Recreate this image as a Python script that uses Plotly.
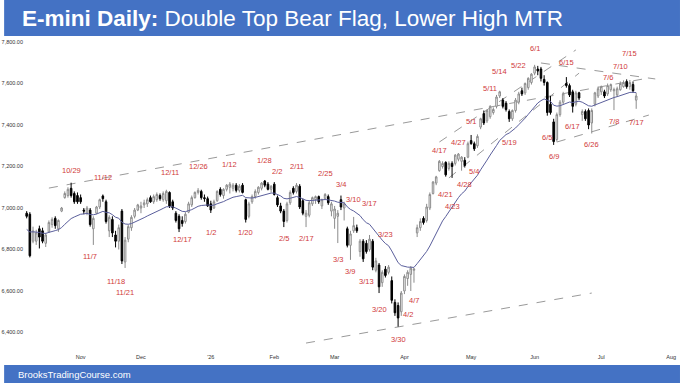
import pandas as pd
import plotly.graph_objects as go

# ---------------- data ----------------
holidays = ["2025-11-27", "2025-12-25", "2026-01-01", "2026-01-19", "2026-02-16",
            "2026-04-03", "2026-05-25", "2026-06-19", "2026-07-03"]
first_day, last_day = "2025-10-09", "2026-07-17"

opens = [
 6975, 6970, 6840, 6840, 6900, 6890, 6830, 6885, 6920, 6950, 6900, 6985, 7050, 7060, 7095, 7070, 7060,
 7050, 6990, 6975, 6990, 6900, 6975, 7005, 7058, 7030, 6890, 6945, 6870, 6840, 6985, 6740, 6850, 6905, 6960, 6990,
 7000, 7015, 7020, 7050, 7030, 7040, 7060, 7040, 7035, 7075, 7030, 6975, 6960, 6940, 6935, 6980, 7015, 7050, 7075, 7080, 7050, 7045,
 7020, 7000, 7035, 7090, 7060, 7090, 7100, 7095, 7110, 7085, 7110, 7040, 6960, 7030, 7055, 7075, 7095, 7130, 7115, 7090,
 7115, 7050, 7010, 6985, 6940, 7025, 7095, 7080, 7105, 7035, 6960, 6965, 7020, 7040, 7055, 7010, 7045, 7055, 6985,
 6950, 6960, 7040, 7000, 6900, 6820, 6890, 6905, 6790, 6840, 6830, 6800, 6840, 6700, 6725, 6640, 6705, 6690, 6650, 6545, 6530, 6500,
 6600, 6660, 6680, 6700, 6880, 6905, 6950, 6940, 7000, 7070, 7120, 7180, 7200, 7220, 7190, 7215, 7215, 7235, 7225, 7230, 7245,
 7325, 7310, 7300, 7390, 7455, 7420, 7440, 7460, 7490, 7540, 7520, 7505, 7465, 7430, 7470, 7510, 7565, 7555, 7580, 7605,
 7650, 7670, 7670, 7620, 7605, 7500, 7415, 7330, 7450, 7510, 7600, 7590, 7560, 7500, 7555, 7450, 7465, 7470, 7410, 7500, 7540,
 7560, 7560, 7550, 7570, 7565, 7545, 7570, 7585, 7610, 7585, 7595, 7520]
highs = [
 6985, 6980, 6910, 6895, 6915, 6905, 6880, 6940, 6955, 6960, 6945, 7005, 7080, 7100, 7122, 7080, 7075,
 7065, 7000, 7010, 7000, 6960, 7010, 7045, 7065, 7040, 6965, 6960, 6890, 6920, 6995, 6860, 6920, 6965, 7000, 7020,
 7030, 7040, 7050, 7060, 7065, 7075, 7070, 7080, 7088, 7080, 7040, 6985, 6970, 6960, 6980, 7030, 7060, 7080, 7096, 7088, 7065, 7055,
 7035, 7040, 7085, 7100, 7095, 7115, 7125, 7120, 7120, 7115, 7120, 7045, 7030, 7065, 7090, 7105, 7125, 7135, 7125, 7110,
 7125, 7060, 7025, 6995, 7030, 7085, 7105, 7120, 7115, 7045, 6990, 7035, 7055, 7060, 7060, 7045, 7072, 7065, 7030,
 7010, 6990, 7060, 7030, 6910, 6890, 6957, 6920, 6850, 6850, 6845, 6870, 6850, 6760, 6735, 6700, 6720, 6725, 6670, 6560, 6545, 6600,
 6680, 6700, 6720, 6711, 6920, 6950, 6960, 7020, 7075, 7130, 7155, 7231, 7225, 7225, 7225, 7225, 7260, 7265, 7250, 7245, 7320,
 7352, 7320, 7355, 7435, 7470, 7475, 7495, 7485, 7545, 7565, 7530, 7515, 7475, 7475, 7530, 7560, 7580, 7605, 7630, 7650,
 7690, 7685, 7680, 7640, 7610, 7540, 7430, 7460, 7520, 7560, 7631, 7600, 7570, 7565, 7560, 7475, 7475, 7480, 7480, 7560, 7585,
 7590, 7570, 7600, 7600, 7580, 7585, 7610, 7615, 7620, 7617, 7610, 7555]
lows = [
 6950, 6762, 6830, 6822, 6805, 6830, 6812, 6880, 6905, 6900, 6885, 6980, 7045, 7050, 7050, 7020, 7020,
 7020, 6970, 6965, 6910, 6822, 6970, 6995, 7030, 6925, 6860, 6860, 6810, 6800, 6730, 6711, 6835, 6890, 6950, 6985,
 6975, 7000, 7005, 7025, 7020, 7030, 7035, 7030, 7020, 7000, 6990, 6930, 6884, 6910, 6925, 6975, 7005, 7045, 7065, 7040, 7030, 7005,
 6976, 6995, 7030, 7055, 7045, 7080, 7070, 7080, 7075, 7075, 7070, 6930, 6950, 7020, 7045, 7065, 7085, 7100, 7085, 7075,
 7060, 7005, 6975, 6908, 6930, 7015, 7065, 7070, 6995, 6965, 6908, 6955, 7010, 7020, 7020, 6995, 7040, 7015, 6960,
 6900, 6831, 6990, 6940, 6810, 6750, 6880, 6880, 6765, 6740, 6780, 6790, 6700, 6690, 6590, 6620, 6665, 6680, 6540, 6480, 6428, 6480,
 6585, 6625, 6600, 6640, 6860, 6890, 6920, 6930, 6990, 7065, 7110, 7175, 7190, 7151, 7180, 7145, 7205, 7225, 7180, 7195, 7240,
 7305, 7275, 7290, 7380, 7400, 7410, 7430, 7450, 7480, 7530, 7480, 7465, 7415, 7420, 7460, 7500, 7540, 7545, 7570, 7595,
 7640, 7640, 7610, 7590, 7445, 7450, 7304, 7320, 7440, 7500, 7580, 7535, 7460, 7490, 7520, 7420, 7420, 7380, 7359, 7490, 7530,
 7545, 7530, 7540, 7560, 7472, 7535, 7565, 7580, 7575, 7570, 7555, 7478]
closes = [
 6960, 6770, 6890, 6880, 6860, 6840, 6870, 6930, 6945, 6915, 6940, 7000, 7070, 7090, 7060, 7030, 7030,
 7030, 6985, 7000, 6920, 6950, 7005, 7040, 7045, 6935, 6955, 6880, 6840, 6905, 6745, 6845, 6910, 6955, 6990, 7015,
 7010, 7025, 7040, 7030, 7055, 7065, 7045, 7070, 7080, 7010, 7000, 6940, 6900, 6925, 6970, 7020, 7050, 7075, 7085, 7050, 7045, 7010,
 6990, 7030, 7080, 7065, 7090, 7110, 7115, 7110, 7085, 7105, 7075, 6945, 7020, 7055, 7080, 7100, 7120, 7110, 7090, 7105,
 7065, 7015, 6985, 6935, 7020, 7075, 7075, 7110, 7005, 6975, 6975, 7025, 7050, 7055, 7030, 7040, 7065, 7025, 7020,
 6995, 6975, 7005, 7020, 6820, 6875, 6915, 6890, 6840, 6755, 6790, 6850, 6715, 6745, 6620, 6690, 6675, 6715, 6555, 6495, 6470, 6590,
 6670, 6690, 6710, 6705, 6905, 6935, 6930, 7005, 7065, 7125, 7150, 7225, 7215, 7160, 7215, 7200, 7255, 7260, 7245, 7205, 7310,
 7310, 7285, 7345, 7430, 7410, 7470, 7490, 7475, 7535, 7560, 7490, 7475, 7430, 7470, 7520, 7550, 7550, 7600, 7625, 7645,
 7680, 7660, 7625, 7605, 7460, 7460, 7320, 7450, 7510, 7550, 7590, 7545, 7490, 7555, 7530, 7465, 7430, 7400, 7470, 7555, 7575,
 7585, 7540, 7590, 7595, 7570, 7575, 7600, 7605, 7585, 7605, 7565, 7540]
ema_seed = 6890  # value of the 20 EMA just before the first bar

month_ticks = ["Nov", "Dec", "'26", "Feb", "Mar", "Apr", "May", "Jun", "Jul", "Aug"]
price_ticks = [6400, 6600, 6800, 7000, 7200, 7400, 7600, 7800]

# date labels: (text, anchor date, price)
labels = [
 ("10/29", "2025-10-29", 7183), ("11/12", "2025-11-12", 7149), ("11/7", "2025-11-06", 6764),
 ("11/18", "2025-11-18", 6648), ("11/21", "2025-11-21", 6595), ("12/11", "2025-12-12", 7169),
 ("12/17", "2025-12-18", 6846), ("12/26", "2025-12-26", 7198), ("1/2", "2026-01-02", 6884),
 ("1/12", "2026-01-12", 7212), ("1/20", "2026-01-20", 6884), ("1/28", "2026-01-28", 7227),
 ("2/2", "2026-02-03", 7174), ("2/11", "2026-02-11", 7202), ("2/5", "2026-02-05", 6851),
 ("2/17", "2026-02-17", 6855), ("2/25", "2026-02-25", 7164), ("3/4", "2026-03-04", 7111),
 ("3/10", "2026-03-10", 7043), ("3/17", "2026-03-17", 7024), ("3/3", "2026-03-03", 6754),
 ("3/9", "2026-03-09", 6696), ("3/13", "2026-03-16", 6648), ("3/23", "2026-03-24", 6870),
 ("3/20", "2026-03-20", 6513), ("4/2", "2026-04-02", 6489), ("4/7", "2026-04-07", 6552),
 ("3/30", "2026-03-30", 6364), ("4/17", "2026-04-17", 7275), ("4/21", "2026-04-21", 7063),
 ("4/23", "2026-04-23", 7005), ("4/27", "2026-04-27", 7318), ("4/28", "2026-04-29", 7111),
 ("5/4", "2026-05-04", 7178), ("5/1", "2026-05-01", 7415), ("5/11", "2026-05-11", 7578),
 ("5/14", "2026-05-14", 7656), ("5/22", "2026-05-22", 7689), ("5/19", "2026-05-19", 7318),
 ("6/1", "2026-06-01", 7771), ("6/15", "2026-06-15", 7699), ("6/5", "2026-06-05", 7342),
 ("6/9", "2026-06-09", 7246), ("6/17", "2026-06-17", 7395), ("6/26", "2026-06-26", 7304),
 ("7/6", "2026-07-06", 7631), ("7/10", "2026-07-10", 7680), ("7/15", "2026-07-15", 7747),
 ("7/8", "2026-07-08", 7415), ("7/17", "2026-07-17", 7410),
]

# dashed trend lines: ((date, price), (date, price))
trend_lines = [
 (("2025-10-20", 7096), ("2026-07-23", 7627)),
 (("2026-02-17", 6349), ("2026-06-26", 6590)),
 (("2026-06-03", 7699), ("2026-07-27", 7622)),
 (("2026-04-17", 7318), ("2026-06-18", 7762)),
 (("2026-04-22", 7145), ("2026-06-22", 7650)),
 (("2026-06-10", 7318), ("2026-07-23", 7448)),
]

# ---------------- trading calendar -> positions ----------------
cal = pd.bdate_range("2025-10-08", "2026-08-10")
cal = cal[~cal.isin(pd.to_datetime(holidays))]
pos = {d.strftime("%Y-%m-%d"): i for i, d in enumerate(cal)}
dates = [d.strftime("%Y-%m-%d") for d in cal if first_day <= d.strftime("%Y-%m-%d") <= last_day]
xs = [pos[d] for d in dates]

# month tick positions = first trading day of each month
tickpos = []
seen = set()
for d in cal:
    key = (d.year, d.month)
    if key not in seen:
        seen.add(key)
        if d >= pd.Timestamp("2025-11-01"):
            tickpos.append(pos[d.strftime("%Y-%m-%d")])
tickpos = tickpos[:len(month_ticks)]

# 20-period EMA of the closes
ema = []
prev = ema_seed
for c in closes:
    prev = prev + (c - prev) * 2 / 21
    ema.append(prev)

# ---------------- figure ----------------
W, H = 680, 383
ML, MR, MT, MB = 20, 2, 37, 31
PW, PH = W - ML - MR, H - MT - MB


def px(x):
    return (x - ML) / PW


def py(y):
    return (H - MB - y) / PH


fig = go.Figure()
fig.add_trace(go.Candlestick(
    x=xs, open=opens, high=highs, low=lows, close=closes,
    increasing=dict(fillcolor="white", line=dict(color="#8c8c8c", width=1)),
    decreasing=dict(fillcolor="black", line=dict(color="black", width=1)),
    whiskerwidth=0, showlegend=False, hoverinfo="skip"))
fig.add_trace(go.Scatter(x=xs, y=ema, mode="lines",
                         line=dict(color="#5b5f9c", width=1), showlegend=False, hoverinfo="skip"))

shapes = []
for (d0, p0), (d1, p1) in trend_lines:
    shapes.append(dict(type="line", xref="x", yref="y", x0=pos[d0], y0=p0, x1=pos[d1], y1=p1,
                       line=dict(color="#9a9a9a", width=1, dash="dash"), layer="below"))
# title bar and footer bar
shapes.append(dict(type="rect", xref="paper", yref="paper", x0=px(0), x1=px(W), y0=py(36), y1=py(0),
                   fillcolor="#4472c4", line=dict(width=0), layer="above"))
shapes.append(dict(type="rect", xref="paper", yref="paper", x0=px(0), x1=px(W), y0=py(H), y1=py(365),
                   fillcolor="#4472c4", line=dict(width=0), layer="above"))

ann = []
for t, d, p in labels:
    ann.append(dict(x=pos[d], y=p, xref="x", yref="y", text=t, showarrow=False,
                    font=dict(family="Liberation Sans, Arial", size=7.5, color="#d03a3a")))
ann.append(dict(x=px(16), y=py(19), xref="paper", yref="paper", xanchor="left", yanchor="middle",
                text="<b>E-mini Daily:</b> Double Top Bear Flag, Lower High MTR", showarrow=False,
                font=dict(family="Liberation Sans, Arial", size=22.5, color="white")))
ann.append(dict(x=px(12), y=py(374), xref="paper", yref="paper", xanchor="left", yanchor="middle",
                text="BrooksTradingCourse.com", showarrow=False,
                font=dict(family="Liberation Sans, Arial", size=9.5, color="white")))

x0 = 0.157
x1 = x0 + PW / 3.194
y_lo = 7000 - (H - MB - 208) * 4.82
y_hi = 7000 + (208 - MT) * 4.82

fig.update_layout(
    width=W, height=H, margin=dict(l=ML, r=MR, t=MT, b=MB),
    paper_bgcolor="white", plot_bgcolor="white",
    shapes=shapes, annotations=ann,
    xaxis=dict(range=[x0, x1], tickvals=tickpos, ticktext=month_ticks, showgrid=False,
               zeroline=False, showline=False, ticks="", rangeslider=dict(visible=False),
               tickfont=dict(family="Liberation Sans, Arial", size=5.5, color="#333333")),
    yaxis=dict(range=[y_lo, y_hi], tickvals=price_ticks, tickformat=",.2f", showgrid=False,
               zeroline=False, showline=False, ticks="",
               tickfont=dict(family="Liberation Sans, Arial", size=5.5, color="#333333")),
)

fig.write_html("out.html")
